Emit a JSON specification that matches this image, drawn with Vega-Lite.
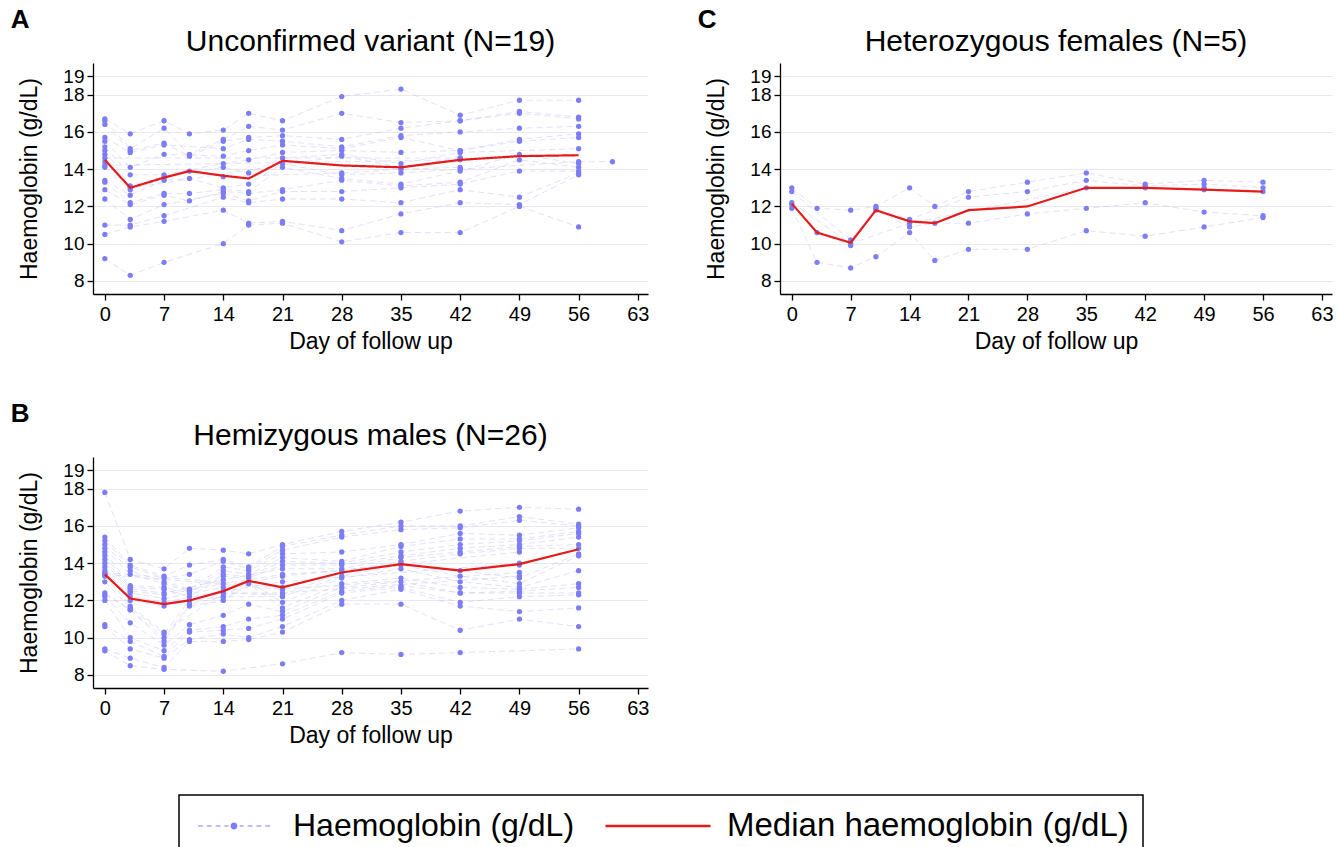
{
  "$schema": "https://vega.github.io/schema/vega-lite/v6.json",
  "autosize": {"type": "pad"},
  "padding": {"left": 10, "top": 7, "right": 5, "bottom": 0},
  "background": "white",
  "config": {
    "font": "Liberation Sans",
    "view": {"stroke": null},
    "axis": {"domainColor": "#000", "domainWidth": 1.3, "tickColor": "#000", "tickWidth": 1.3, "tickSize": 6, "labelColor": "#000", "titleColor": "#000", "labelFontSize": 19, "titleFontSize": 23, "titleFontWeight": "normal", "gridColor": "#e8e8f0", "gridWidth": 1, "labelFont": "Liberation Sans", "titleFont": "Liberation Sans", "labelOverlap": false, "tickCount": 20, "format": "d"},
    "axisX": {"grid": false, "labelPadding": 4, "titlePadding": 6, "labelFontSize": 20},
    "axisY": {"grid": true, "labelPadding": 3, "titlePadding": 21},
    "legend": {"strokeWidth": 1.5},
    "title": {"fontSize": 30, "fontWeight": "normal", "color": "#000", "font": "Liberation Sans"}
  },
  "datasets": {
    "pts": [
      {"p":"A","d":0,"v":9.2,"i":1},{"p":"A","d":0,"v":10.5,"i":2},{"p":"A","d":0,"v":11.0,"i":3},{"p":"A","d":0,"v":12.4,"i":4},{"p":"A","d":0,"v":12.9,"i":5},{"p":"A","d":0,"v":13.3,"i":6},{"p":"A","d":0,"v":13.4,"i":7},{"p":"A","d":0,"v":14.1,"i":8},{"p":"A","d":0,"v":14.2,"i":9},{"p":"A","d":0,"v":14.4,"i":10},{"p":"A","d":0,"v":14.6,"i":11},{"p":"A","d":0,"v":14.8,"i":12},{"p":"A","d":0,"v":15.0,"i":13},{"p":"A","d":0,"v":15.2,"i":14},{"p":"A","d":0,"v":15.5,"i":15},{"p":"A","d":0,"v":15.7,"i":16},{"p":"A","d":0,"v":16.4,"i":17},{"p":"A","d":0,"v":16.6,"i":18},{"p":"A","d":0,"v":16.7,"i":19},
      {"p":"A","d":3,"v":8.3,"i":1},{"p":"A","d":3,"v":10.9,"i":2},{"p":"A","d":3,"v":11.0,"i":3},{"p":"A","d":3,"v":11.3,"i":4},{"p":"A","d":3,"v":12.1,"i":5},{"p":"A","d":3,"v":12.2,"i":6},{"p":"A","d":3,"v":12.6,"i":7},{"p":"A","d":3,"v":12.9,"i":8},{"p":"A","d":3,"v":13.0,"i":12},{"p":"A","d":3,"v":13.1,"i":13},{"p":"A","d":3,"v":13.7,"i":14},{"p":"A","d":3,"v":14.1,"i":15},{"p":"A","d":3,"v":14.9,"i":16},{"p":"A","d":3,"v":15.0,"i":17},{"p":"A","d":3,"v":15.1,"i":18},{"p":"A","d":3,"v":15.9,"i":19},
      {"p":"A","d":7,"v":9.0,"i":1},{"p":"A","d":7,"v":11.2,"i":2},{"p":"A","d":7,"v":11.5,"i":3},{"p":"A","d":7,"v":12.1,"i":4},{"p":"A","d":7,"v":12.6,"i":5},{"p":"A","d":7,"v":12.7,"i":6},{"p":"A","d":7,"v":13.4,"i":7},{"p":"A","d":7,"v":13.5,"i":8},{"p":"A","d":7,"v":13.6,"i":13},{"p":"A","d":7,"v":13.7,"i":14},{"p":"A","d":7,"v":14.8,"i":15},{"p":"A","d":7,"v":15.3,"i":16},{"p":"A","d":7,"v":15.4,"i":17},{"p":"A","d":7,"v":16.2,"i":18},{"p":"A","d":7,"v":16.6,"i":19},
      {"p":"A","d":10,"v":12.3,"i":5},{"p":"A","d":10,"v":12.7,"i":6},{"p":"A","d":10,"v":13.5,"i":7},{"p":"A","d":10,"v":13.9,"i":8},{"p":"A","d":10,"v":14.7,"i":17},{"p":"A","d":10,"v":14.8,"i":18},{"p":"A","d":10,"v":15.9,"i":19},
      {"p":"A","d":14,"v":10.0,"i":1},{"p":"A","d":14,"v":11.8,"i":2},{"p":"A","d":14,"v":12.5,"i":3},{"p":"A","d":14,"v":12.7,"i":4},{"p":"A","d":14,"v":12.8,"i":5},{"p":"A","d":14,"v":12.9,"i":6},{"p":"A","d":14,"v":13.0,"i":7},{"p":"A","d":14,"v":13.6,"i":8},{"p":"A","d":14,"v":14.1,"i":13},{"p":"A","d":14,"v":14.3,"i":14},{"p":"A","d":14,"v":14.7,"i":15},{"p":"A","d":14,"v":15.1,"i":16},{"p":"A","d":14,"v":15.5,"i":17},{"p":"A","d":14,"v":15.6,"i":18},{"p":"A","d":14,"v":16.1,"i":19},
      {"p":"A","d":17,"v":11.0,"i":1},{"p":"A","d":17,"v":11.1,"i":2},{"p":"A","d":17,"v":12.2,"i":3},{"p":"A","d":17,"v":12.3,"i":4},{"p":"A","d":17,"v":12.7,"i":5},{"p":"A","d":17,"v":12.8,"i":6},{"p":"A","d":17,"v":13.2,"i":7},{"p":"A","d":17,"v":13.8,"i":13},{"p":"A","d":17,"v":14.5,"i":14},{"p":"A","d":17,"v":15.0,"i":15},{"p":"A","d":17,"v":15.6,"i":16},{"p":"A","d":17,"v":15.7,"i":17},{"p":"A","d":17,"v":16.3,"i":18},{"p":"A","d":17,"v":17.0,"i":19},
      {"p":"A","d":21,"v":11.1,"i":1},{"p":"A","d":21,"v":11.2,"i":2},{"p":"A","d":21,"v":12.4,"i":3},{"p":"A","d":21,"v":12.8,"i":4},{"p":"A","d":21,"v":12.9,"i":5},{"p":"A","d":21,"v":14.1,"i":6},{"p":"A","d":21,"v":14.3,"i":7},{"p":"A","d":21,"v":14.6,"i":13},{"p":"A","d":21,"v":14.9,"i":14},{"p":"A","d":21,"v":15.3,"i":15},{"p":"A","d":21,"v":15.5,"i":16},{"p":"A","d":21,"v":15.8,"i":17},{"p":"A","d":21,"v":16.1,"i":18},{"p":"A","d":21,"v":16.6,"i":19},
      {"p":"A","d":28,"v":10.1,"i":1},{"p":"A","d":28,"v":10.7,"i":2},{"p":"A","d":28,"v":12.4,"i":3},{"p":"A","d":28,"v":12.8,"i":4},{"p":"A","d":28,"v":13.4,"i":5},{"p":"A","d":28,"v":13.5,"i":6},{"p":"A","d":28,"v":13.7,"i":7},{"p":"A","d":28,"v":13.8,"i":8},{"p":"A","d":28,"v":14.7,"i":12},{"p":"A","d":28,"v":14.8,"i":13},{"p":"A","d":28,"v":15.0,"i":14},{"p":"A","d":28,"v":15.1,"i":15},{"p":"A","d":28,"v":15.2,"i":16},{"p":"A","d":28,"v":15.6,"i":17},{"p":"A","d":28,"v":17.0,"i":18},{"p":"A","d":28,"v":17.9,"i":19},
      {"p":"A","d":35,"v":10.6,"i":1},{"p":"A","d":35,"v":11.6,"i":2},{"p":"A","d":35,"v":12.2,"i":3},{"p":"A","d":35,"v":13.0,"i":4},{"p":"A","d":35,"v":13.1,"i":5},{"p":"A","d":35,"v":13.2,"i":6},{"p":"A","d":35,"v":13.8,"i":7},{"p":"A","d":35,"v":14.0,"i":8},{"p":"A","d":35,"v":14.1,"i":12},{"p":"A","d":35,"v":14.3,"i":13},{"p":"A","d":35,"v":14.9,"i":14},{"p":"A","d":35,"v":15.7,"i":15},{"p":"A","d":35,"v":15.8,"i":16},{"p":"A","d":35,"v":16.2,"i":17},{"p":"A","d":35,"v":16.5,"i":18},{"p":"A","d":35,"v":18.3,"i":19},
      {"p":"A","d":42,"v":10.6,"i":1},{"p":"A","d":42,"v":12.2,"i":2},{"p":"A","d":42,"v":12.9,"i":3},{"p":"A","d":42,"v":13.2,"i":4},{"p":"A","d":42,"v":13.3,"i":5},{"p":"A","d":42,"v":13.9,"i":6},{"p":"A","d":42,"v":14.0,"i":7},{"p":"A","d":42,"v":14.1,"i":8},{"p":"A","d":42,"v":14.5,"i":9},{"p":"A","d":42,"v":14.6,"i":11},{"p":"A","d":42,"v":14.6,"i":12},{"p":"A","d":42,"v":14.9,"i":13},{"p":"A","d":42,"v":15.0,"i":14},{"p":"A","d":42,"v":15.0,"i":15},{"p":"A","d":42,"v":16.0,"i":16},{"p":"A","d":42,"v":16.6,"i":17},{"p":"A","d":42,"v":16.6,"i":18},{"p":"A","d":42,"v":16.9,"i":19},
      {"p":"A","d":49,"v":12.0,"i":1},{"p":"A","d":49,"v":12.1,"i":2},{"p":"A","d":49,"v":12.5,"i":3},{"p":"A","d":49,"v":13.9,"i":4},{"p":"A","d":49,"v":14.5,"i":5},{"p":"A","d":49,"v":14.8,"i":6},{"p":"A","d":49,"v":15.5,"i":14},{"p":"A","d":49,"v":15.6,"i":15},{"p":"A","d":49,"v":16.2,"i":16},{"p":"A","d":49,"v":17.0,"i":17},{"p":"A","d":49,"v":17.1,"i":18},{"p":"A","d":49,"v":17.7,"i":19},
      {"p":"A","d":56,"v":10.9,"i":1},{"p":"A","d":56,"v":13.7,"i":2},{"p":"A","d":56,"v":13.8,"i":3},{"p":"A","d":56,"v":13.9,"i":4},{"p":"A","d":56,"v":14.1,"i":5},{"p":"A","d":56,"v":14.3,"i":6},{"p":"A","d":56,"v":14.4,"i":7},{"p":"A","d":56,"v":15.1,"i":13},{"p":"A","d":56,"v":15.7,"i":14},{"p":"A","d":56,"v":15.9,"i":15},{"p":"A","d":56,"v":16.3,"i":16},{"p":"A","d":56,"v":16.7,"i":17},{"p":"A","d":56,"v":16.8,"i":18},{"p":"A","d":56,"v":17.7,"i":19},
      {"p":"A","d":60,"v":14.4,"i":7},
      {"p":"B","d":0,"v":9.3,"i":1},{"p":"B","d":0,"v":9.4,"i":2},{"p":"B","d":0,"v":10.6,"i":3},{"p":"B","d":0,"v":10.7,"i":4},{"p":"B","d":0,"v":12.0,"i":5},{"p":"B","d":0,"v":12.2,"i":6},{"p":"B","d":0,"v":12.3,"i":7},{"p":"B","d":0,"v":12.4,"i":8},{"p":"B","d":0,"v":13.0,"i":9},{"p":"B","d":0,"v":13.3,"i":10},{"p":"B","d":0,"v":13.4,"i":11},{"p":"B","d":0,"v":13.4,"i":12},{"p":"B","d":0,"v":13.5,"i":15},{"p":"B","d":0,"v":13.6,"i":16},{"p":"B","d":0,"v":13.8,"i":17},{"p":"B","d":0,"v":14.0,"i":18},{"p":"B","d":0,"v":14.2,"i":19},{"p":"B","d":0,"v":14.4,"i":20},{"p":"B","d":0,"v":14.6,"i":21},{"p":"B","d":0,"v":14.8,"i":22},{"p":"B","d":0,"v":15.0,"i":23},{"p":"B","d":0,"v":15.2,"i":24},{"p":"B","d":0,"v":15.4,"i":25},{"p":"B","d":0,"v":17.8,"i":26},
      {"p":"B","d":3,"v":8.5,"i":1},{"p":"B","d":3,"v":8.9,"i":2},{"p":"B","d":3,"v":9.4,"i":3},{"p":"B","d":3,"v":9.8,"i":4},{"p":"B","d":3,"v":10.0,"i":5},{"p":"B","d":3,"v":10.8,"i":6},{"p":"B","d":3,"v":11.5,"i":7},{"p":"B","d":3,"v":11.5,"i":8},{"p":"B","d":3,"v":11.6,"i":9},{"p":"B","d":3,"v":11.7,"i":10},{"p":"B","d":3,"v":12.0,"i":11},{"p":"B","d":3,"v":12.2,"i":16},{"p":"B","d":3,"v":12.4,"i":17},{"p":"B","d":3,"v":12.5,"i":18},{"p":"B","d":3,"v":12.6,"i":19},{"p":"B","d":3,"v":12.7,"i":20},{"p":"B","d":3,"v":12.8,"i":21},{"p":"B","d":3,"v":13.4,"i":22},{"p":"B","d":3,"v":13.6,"i":23},{"p":"B","d":3,"v":13.8,"i":24},{"p":"B","d":3,"v":13.9,"i":25},{"p":"B","d":3,"v":14.2,"i":26},
      {"p":"B","d":7,"v":8.3,"i":1},{"p":"B","d":7,"v":8.4,"i":2},{"p":"B","d":7,"v":8.9,"i":3},{"p":"B","d":7,"v":9.0,"i":4},{"p":"B","d":7,"v":9.3,"i":5},{"p":"B","d":7,"v":9.6,"i":6},{"p":"B","d":7,"v":9.8,"i":7},{"p":"B","d":7,"v":10.0,"i":8},{"p":"B","d":7,"v":10.2,"i":9},{"p":"B","d":7,"v":10.3,"i":10},{"p":"B","d":7,"v":11.7,"i":11},{"p":"B","d":7,"v":11.9,"i":16},{"p":"B","d":7,"v":12.1,"i":17},{"p":"B","d":7,"v":12.3,"i":18},{"p":"B","d":7,"v":12.4,"i":19},{"p":"B","d":7,"v":12.6,"i":20},{"p":"B","d":7,"v":12.7,"i":21},{"p":"B","d":7,"v":12.9,"i":22},{"p":"B","d":7,"v":13.0,"i":23},{"p":"B","d":7,"v":13.2,"i":24},{"p":"B","d":7,"v":13.3,"i":25},{"p":"B","d":7,"v":13.7,"i":26},
      {"p":"B","d":10,"v":9.8,"i":2},{"p":"B","d":10,"v":9.9,"i":3},{"p":"B","d":10,"v":10.3,"i":4},{"p":"B","d":10,"v":10.4,"i":5},{"p":"B","d":10,"v":10.7,"i":6},{"p":"B","d":10,"v":11.7,"i":7},{"p":"B","d":10,"v":11.8,"i":8},{"p":"B","d":10,"v":12.0,"i":9},{"p":"B","d":10,"v":12.2,"i":20},{"p":"B","d":10,"v":12.4,"i":21},{"p":"B","d":10,"v":12.5,"i":22},{"p":"B","d":10,"v":12.6,"i":23},{"p":"B","d":10,"v":13.4,"i":24},{"p":"B","d":10,"v":13.9,"i":25},{"p":"B","d":10,"v":14.8,"i":26},
      {"p":"B","d":14,"v":8.2,"i":1},{"p":"B","d":14,"v":9.8,"i":2},{"p":"B","d":14,"v":10.2,"i":3},{"p":"B","d":14,"v":10.4,"i":4},{"p":"B","d":14,"v":10.6,"i":5},{"p":"B","d":14,"v":11.2,"i":6},{"p":"B","d":14,"v":12.0,"i":7},{"p":"B","d":14,"v":12.2,"i":8},{"p":"B","d":14,"v":12.2,"i":9},{"p":"B","d":14,"v":12.4,"i":10},{"p":"B","d":14,"v":12.4,"i":11},{"p":"B","d":14,"v":12.5,"i":16},{"p":"B","d":14,"v":12.7,"i":17},{"p":"B","d":14,"v":12.9,"i":18},{"p":"B","d":14,"v":13.1,"i":19},{"p":"B","d":14,"v":13.3,"i":20},{"p":"B","d":14,"v":13.4,"i":21},{"p":"B","d":14,"v":13.6,"i":22},{"p":"B","d":14,"v":13.8,"i":23},{"p":"B","d":14,"v":14.1,"i":24},{"p":"B","d":14,"v":14.2,"i":25},{"p":"B","d":14,"v":14.7,"i":26},
      {"p":"B","d":17,"v":9.9,"i":2},{"p":"B","d":17,"v":10.0,"i":3},{"p":"B","d":17,"v":10.5,"i":4},{"p":"B","d":17,"v":11.0,"i":5},{"p":"B","d":17,"v":11.8,"i":6},{"p":"B","d":17,"v":12.9,"i":7},{"p":"B","d":17,"v":13.0,"i":8},{"p":"B","d":17,"v":13.2,"i":20},{"p":"B","d":17,"v":13.3,"i":21},{"p":"B","d":17,"v":13.4,"i":22},{"p":"B","d":17,"v":13.6,"i":23},{"p":"B","d":17,"v":13.7,"i":24},{"p":"B","d":17,"v":13.8,"i":25},{"p":"B","d":17,"v":14.5,"i":26},
      {"p":"B","d":21,"v":8.6,"i":1},{"p":"B","d":21,"v":10.3,"i":2},{"p":"B","d":21,"v":10.6,"i":3},{"p":"B","d":21,"v":11.0,"i":4},{"p":"B","d":21,"v":11.2,"i":5},{"p":"B","d":21,"v":11.4,"i":6},{"p":"B","d":21,"v":11.6,"i":7},{"p":"B","d":21,"v":11.9,"i":8},{"p":"B","d":21,"v":12.2,"i":9},{"p":"B","d":21,"v":12.3,"i":10},{"p":"B","d":21,"v":12.4,"i":11},{"p":"B","d":21,"v":12.6,"i":12},{"p":"B","d":21,"v":12.7,"i":15},{"p":"B","d":21,"v":13.0,"i":16},{"p":"B","d":21,"v":13.3,"i":17},{"p":"B","d":21,"v":13.4,"i":18},{"p":"B","d":21,"v":13.7,"i":19},{"p":"B","d":21,"v":13.9,"i":20},{"p":"B","d":21,"v":14.1,"i":21},{"p":"B","d":21,"v":14.3,"i":22},{"p":"B","d":21,"v":14.5,"i":23},{"p":"B","d":21,"v":14.7,"i":24},{"p":"B","d":21,"v":14.9,"i":25},{"p":"B","d":21,"v":15.0,"i":26},
      {"p":"B","d":28,"v":9.2,"i":1},{"p":"B","d":28,"v":11.8,"i":2},{"p":"B","d":28,"v":12.0,"i":3},{"p":"B","d":28,"v":12.4,"i":4},{"p":"B","d":28,"v":12.5,"i":5},{"p":"B","d":28,"v":12.7,"i":6},{"p":"B","d":28,"v":12.9,"i":7},{"p":"B","d":28,"v":13.2,"i":8},{"p":"B","d":28,"v":13.3,"i":9},{"p":"B","d":28,"v":13.5,"i":10},{"p":"B","d":28,"v":13.6,"i":18},{"p":"B","d":28,"v":13.7,"i":19},{"p":"B","d":28,"v":13.9,"i":20},{"p":"B","d":28,"v":14.0,"i":21},{"p":"B","d":28,"v":14.1,"i":22},{"p":"B","d":28,"v":14.6,"i":23},{"p":"B","d":28,"v":15.4,"i":24},{"p":"B","d":28,"v":15.5,"i":25},{"p":"B","d":28,"v":15.7,"i":26},
      {"p":"B","d":35,"v":9.1,"i":1},{"p":"B","d":35,"v":11.8,"i":2},{"p":"B","d":35,"v":12.6,"i":3},{"p":"B","d":35,"v":12.7,"i":4},{"p":"B","d":35,"v":12.8,"i":5},{"p":"B","d":35,"v":13.0,"i":6},{"p":"B","d":35,"v":13.2,"i":7},{"p":"B","d":35,"v":13.7,"i":8},{"p":"B","d":35,"v":13.9,"i":9},{"p":"B","d":35,"v":14.0,"i":10},{"p":"B","d":35,"v":14.1,"i":18},{"p":"B","d":35,"v":14.3,"i":19},{"p":"B","d":35,"v":14.4,"i":20},{"p":"B","d":35,"v":14.6,"i":21},{"p":"B","d":35,"v":14.9,"i":22},{"p":"B","d":35,"v":15.0,"i":23},{"p":"B","d":35,"v":15.8,"i":24},{"p":"B","d":35,"v":16.0,"i":25},{"p":"B","d":35,"v":16.2,"i":26},
      {"p":"B","d":42,"v":9.2,"i":1},{"p":"B","d":42,"v":10.4,"i":2},{"p":"B","d":42,"v":11.7,"i":3},{"p":"B","d":42,"v":11.9,"i":4},{"p":"B","d":42,"v":12.4,"i":5},{"p":"B","d":42,"v":12.4,"i":6},{"p":"B","d":42,"v":12.7,"i":7},{"p":"B","d":42,"v":13.0,"i":8},{"p":"B","d":42,"v":13.3,"i":9},{"p":"B","d":42,"v":13.6,"i":10},{"p":"B","d":42,"v":14.5,"i":18},{"p":"B","d":42,"v":14.6,"i":19},{"p":"B","d":42,"v":14.8,"i":20},{"p":"B","d":42,"v":15.0,"i":21},{"p":"B","d":42,"v":15.3,"i":22},{"p":"B","d":42,"v":15.6,"i":23},{"p":"B","d":42,"v":15.9,"i":24},{"p":"B","d":42,"v":16.0,"i":25},{"p":"B","d":42,"v":16.8,"i":26},
      {"p":"B","d":49,"v":11.0,"i":2},{"p":"B","d":49,"v":11.4,"i":3},{"p":"B","d":49,"v":12.2,"i":4},{"p":"B","d":49,"v":12.4,"i":5},{"p":"B","d":49,"v":12.5,"i":6},{"p":"B","d":49,"v":12.6,"i":7},{"p":"B","d":49,"v":12.7,"i":8},{"p":"B","d":49,"v":12.9,"i":9},{"p":"B","d":49,"v":13.2,"i":10},{"p":"B","d":49,"v":13.3,"i":11},{"p":"B","d":49,"v":13.5,"i":12},{"p":"B","d":49,"v":13.9,"i":13},{"p":"B","d":49,"v":14.0,"i":16},{"p":"B","d":49,"v":14.6,"i":17},{"p":"B","d":49,"v":14.8,"i":18},{"p":"B","d":49,"v":14.9,"i":19},{"p":"B","d":49,"v":15.0,"i":20},{"p":"B","d":49,"v":15.2,"i":21},{"p":"B","d":49,"v":15.3,"i":22},{"p":"B","d":49,"v":15.5,"i":23},{"p":"B","d":49,"v":16.3,"i":24},{"p":"B","d":49,"v":16.5,"i":25},{"p":"B","d":49,"v":17.0,"i":26},
      {"p":"B","d":56,"v":9.4,"i":1},{"p":"B","d":56,"v":10.6,"i":2},{"p":"B","d":56,"v":11.6,"i":3},{"p":"B","d":56,"v":12.3,"i":4},{"p":"B","d":56,"v":12.4,"i":5},{"p":"B","d":56,"v":12.7,"i":6},{"p":"B","d":56,"v":12.9,"i":7},{"p":"B","d":56,"v":13.6,"i":8},{"p":"B","d":56,"v":14.4,"i":9},{"p":"B","d":56,"v":14.5,"i":10},{"p":"B","d":56,"v":14.8,"i":18},{"p":"B","d":56,"v":15.0,"i":19},{"p":"B","d":56,"v":15.4,"i":20},{"p":"B","d":56,"v":15.6,"i":21},{"p":"B","d":56,"v":15.7,"i":22},{"p":"B","d":56,"v":15.9,"i":23},{"p":"B","d":56,"v":16.0,"i":24},{"p":"B","d":56,"v":16.1,"i":25},{"p":"B","d":56,"v":16.9,"i":26},
      {"p":"C","d":0,"v":11.9,"i":1},{"p":"C","d":0,"v":12.1,"i":2},{"p":"C","d":0,"v":12.2,"i":3},{"p":"C","d":0,"v":12.8,"i":5},{"p":"C","d":0,"v":13.0,"i":6},
      {"p":"C","d":3,"v":9.0,"i":1},{"p":"C","d":3,"v":10.6,"i":2},{"p":"C","d":3,"v":11.9,"i":6},
      {"p":"C","d":7,"v":8.7,"i":1},{"p":"C","d":7,"v":9.9,"i":2},{"p":"C","d":7,"v":10.0,"i":3},{"p":"C","d":7,"v":10.2,"i":5},{"p":"C","d":7,"v":11.8,"i":6},
      {"p":"C","d":10,"v":9.3,"i":1},{"p":"C","d":10,"v":11.8,"i":2},{"p":"C","d":10,"v":11.9,"i":5},{"p":"C","d":10,"v":12.0,"i":6},
      {"p":"C","d":14,"v":10.6,"i":1},{"p":"C","d":14,"v":10.9,"i":2},{"p":"C","d":14,"v":11.1,"i":3},{"p":"C","d":14,"v":11.3,"i":5},{"p":"C","d":14,"v":13.0,"i":6},
      {"p":"C","d":17,"v":9.1,"i":1},{"p":"C","d":17,"v":11.1,"i":2},{"p":"C","d":17,"v":12.0,"i":6},
      {"p":"C","d":21,"v":9.7,"i":1},{"p":"C","d":21,"v":11.1,"i":2},{"p":"C","d":21,"v":12.5,"i":5},{"p":"C","d":21,"v":12.8,"i":6},
      {"p":"C","d":28,"v":9.7,"i":1},{"p":"C","d":28,"v":11.6,"i":2},{"p":"C","d":28,"v":12.8,"i":5},{"p":"C","d":28,"v":13.3,"i":6},
      {"p":"C","d":35,"v":10.7,"i":1},{"p":"C","d":35,"v":11.9,"i":2},{"p":"C","d":35,"v":13.0,"i":3},{"p":"C","d":35,"v":13.4,"i":5},{"p":"C","d":35,"v":13.8,"i":6},
      {"p":"C","d":42,"v":10.4,"i":1},{"p":"C","d":42,"v":12.2,"i":2},{"p":"C","d":42,"v":13.0,"i":3},{"p":"C","d":42,"v":13.1,"i":5},{"p":"C","d":42,"v":13.2,"i":6},
      {"p":"C","d":49,"v":10.9,"i":1},{"p":"C","d":49,"v":11.7,"i":2},{"p":"C","d":49,"v":12.9,"i":3},{"p":"C","d":49,"v":13.0,"i":4},{"p":"C","d":49,"v":13.2,"i":5},{"p":"C","d":49,"v":13.4,"i":6},
      {"p":"C","d":56,"v":11.4,"i":1},{"p":"C","d":56,"v":11.5,"i":2},{"p":"C","d":56,"v":12.8,"i":3},{"p":"C","d":56,"v":13.0,"i":5},{"p":"C","d":56,"v":13.3,"i":6}
    ],
    "med": [
      {"p":"A","d":0,"v":14.5},{"p":"A","d":3,"v":13.0},{"p":"A","d":7,"v":13.55},{"p":"A","d":10,"v":13.9},{"p":"A","d":14,"v":13.65},{"p":"A","d":17,"v":13.5},{"p":"A","d":21,"v":14.45},{"p":"A","d":28,"v":14.2},{"p":"A","d":35,"v":14.1},{"p":"A","d":42,"v":14.5},{"p":"A","d":49,"v":14.7},{"p":"A","d":56,"v":14.75},
      {"p":"B","d":0,"v":13.4},{"p":"B","d":3,"v":12.1},{"p":"B","d":7,"v":11.8},{"p":"B","d":10,"v":12.0},{"p":"B","d":14,"v":12.5},{"p":"B","d":17,"v":13.05},{"p":"B","d":21,"v":12.7},{"p":"B","d":28,"v":13.5},{"p":"B","d":35,"v":13.95},{"p":"B","d":42,"v":13.6},{"p":"B","d":49,"v":13.95},{"p":"B","d":56,"v":14.75},
      {"p":"C","d":0,"v":12.15},{"p":"C","d":3,"v":10.6},{"p":"C","d":7,"v":10.05},{"p":"C","d":10,"v":11.8},{"p":"C","d":14,"v":11.2},{"p":"C","d":17,"v":11.1},{"p":"C","d":21,"v":11.8},{"p":"C","d":28,"v":12.0},{"p":"C","d":35,"v":13.0},{"p":"C","d":42,"v":13.0},{"p":"C","d":49,"v":12.9},{"p":"C","d":56,"v":12.8}
    ]
  },
  "vconcat": [
    {
      "hconcat": [
        {
          "title": {"text": "A", "anchor": "start", "fontSize": 26, "fontWeight": "bold", "dx": -8, "offset": -6},
          "vconcat": [
            {
              "width": 555, "height": 231,
              "title": {"text": "Unconfirmed variant (N=19)", "frame": "group", "anchor": "middle", "offset": 6},
              "layer": [
                {"data": {"name": "pts"}, "transform": [{"filter": "datum.p === 'A'"}],
                 "mark": {"type": "line", "strokeDash": [6, 4], "strokeWidth": 1, "color": "#b8b8f0", "opacity": 0.42},
                 "encoding": {
                   "x": {"field": "d", "type": "quantitative", "scale": {"domain": [-1.4, 64.2], "nice": false, "zero": false}, "axis": {"values": [0,7,14,21,28,35,42,49,56,63], "title": "Day of follow up", "tickCount": 20, "format": "d"}},
                   "y": {"field": "v", "type": "quantitative", "scale": {"domain": [7.3, 19.7], "nice": false, "zero": false}, "axis": {"values": [8,10,12,14,16,18,19], "title": "Haemoglobin (g/dL)", "tickCount": 20, "format": "d"}},
                   "detail": {"field": "i"}, "order": {"field": "d"}}},
                {"data": {"name": "pts"}, "transform": [{"filter": "datum.p === 'A'"}],
                 "mark": {"type": "circle", "size": 28, "opacity": 1},
                 "encoding": {
                   "x": {"field": "d", "type": "quantitative"},
                   "y": {"field": "v", "type": "quantitative"},
                   "color": {"datum": "Haemoglobin (g/dL)", "type": "nominal",
                     "scale": {"domain": ["Haemoglobin (g/dL)"], "range": ["#7d7df5"]},
                     "legend": {
                       "orient": "none", "legendX": 86, "legendY": 732, "direction": "horizontal",
                       "title": "Median haemoglobin (g/dL)", "titleOrient": "right", "titlePadding": 153,
                       "titleFontSize": 33, "titleFontWeight": "normal", "titleColor": "#000", "titleFont": "Liberation Sans", "titleLimit": 1000,
                       "titleAnchor": "middle", "titleBaseline": "middle",
                       "labelFontSize": 32, "labelColor": "#000", "labelFont": "Liberation Sans", "labelLimit": 1000,
                       "strokeColor": "#000", "padding": 14, "clipHeight": 34,
                       "symbolSize": 6400, "labelOffset": 18, "symbolOpacity": 1,
                       "symbolType": "M-0.9,-0.01H-0.78V0.01H-0.9Z M-0.68,-0.01H-0.56V0.01H-0.68Z M-0.46,-0.01H-0.34V0.01H-0.46Z M-0.24,-0.01H-0.14V0.01H-0.24Z M0.14,-0.01H0.24V0.01H0.14Z M0.34,-0.01H0.46V0.01H0.34Z M0.56,-0.01H0.68V0.01H0.56Z M0.78,-0.01H0.9V0.01H0.78Z M0.085,0A0.085,0.085,0,1,1,-0.085,0A0.085,0.085,0,1,1,0.085,0Z"
                     }}}},
                {"data": {"name": "med"}, "transform": [{"filter": "datum.p === 'A'"}],
                 "mark": {"type": "line", "strokeWidth": 2.2, "color": "#e41b1b"},
                 "encoding": {
                   "x": {"field": "d", "type": "quantitative"},
                   "y": {"field": "v", "type": "quantitative"},
                   "strokeDash": {"datum": "Median haemoglobin (g/dL)", "type": "nominal",
                     "scale": {"domain": ["Median haemoglobin (g/dL)"], "range": [[1, 0]]},
                     "legend": {
                       "orient": "none", "legendX": 511, "legendY": 746, "direction": "horizontal", "title": null,
                       "labelExpr": "''", "labelFontSize": 1, "labelOffset": 0,
                       "padding": 0, "clipHeight": 34, "symbolType": "stroke", "symbolSize": 11025,
                       "symbolStrokeWidth": 2.5, "symbolStrokeColor": "#e41b1b", "symbolOpacity": 1
                     }}}}
              ]
            }
          ]
        },
        {
          "title": {"text": "C", "anchor": "start", "fontSize": 26, "fontWeight": "bold", "dx": -8, "offset": -6},
          "vconcat": [
            {
              "width": 552, "height": 231,
              "title": {"text": "Heterozygous females (N=5)", "frame": "group", "anchor": "middle", "offset": 6},
              "layer": [
                {"data": {"name": "pts"}, "transform": [{"filter": "datum.p === 'C'"}],
                 "mark": {"type": "line", "strokeDash": [6, 4], "strokeWidth": 1, "color": "#b8b8f0", "opacity": 0.42},
                 "encoding": {
                   "x": {"field": "d", "type": "quantitative", "scale": {"domain": [-1.4, 64.2], "nice": false, "zero": false}, "axis": {"values": [0,7,14,21,28,35,42,49,56,63], "title": "Day of follow up", "tickCount": 20, "format": "d"}},
                   "y": {"field": "v", "type": "quantitative", "scale": {"domain": [7.3, 19.7], "nice": false, "zero": false}, "axis": {"values": [8,10,12,14,16,18,19], "title": "Haemoglobin (g/dL)", "tickCount": 20, "format": "d"}},
                   "detail": {"field": "i"}, "order": {"field": "d"}}},
                {"data": {"name": "pts"}, "transform": [{"filter": "datum.p === 'C'"}],
                 "mark": {"type": "circle", "size": 28, "opacity": 1, "color": "#7d7df5"},
                 "encoding": {"x": {"field": "d", "type": "quantitative"}, "y": {"field": "v", "type": "quantitative"}}},
                {"data": {"name": "med"}, "transform": [{"filter": "datum.p === 'C'"}],
                 "mark": {"type": "line", "strokeWidth": 2.2, "color": "#e41b1b"},
                 "encoding": {"x": {"field": "d", "type": "quantitative"}, "y": {"field": "v", "type": "quantitative"}}}
              ]
            }
          ]
        }
      ],
      "spacing": 48
    },
    {
      "title": {"text": "B", "anchor": "start", "fontSize": 26, "fontWeight": "bold", "dx": -8, "offset": -6},
      "vconcat": [
        {
          "width": 555, "height": 231,
          "title": {"text": "Hemizygous males (N=26)", "frame": "group", "anchor": "middle", "offset": 6},
          "layer": [
            {"data": {"name": "pts"}, "transform": [{"filter": "datum.p === 'B'"}],
             "mark": {"type": "line", "strokeDash": [6, 4], "strokeWidth": 1, "color": "#b8b8f0", "opacity": 0.42},
             "encoding": {
               "x": {"field": "d", "type": "quantitative", "scale": {"domain": [-1.4, 64.2], "nice": false, "zero": false}, "axis": {"values": [0,7,14,21,28,35,42,49,56,63], "title": "Day of follow up", "tickCount": 20, "format": "d"}},
               "y": {"field": "v", "type": "quantitative", "scale": {"domain": [7.3, 19.7], "nice": false, "zero": false}, "axis": {"values": [8,10,12,14,16,18,19], "title": "Haemoglobin (g/dL)", "tickCount": 20, "format": "d"}},
               "detail": {"field": "i"}, "order": {"field": "d"}}},
            {"data": {"name": "pts"}, "transform": [{"filter": "datum.p === 'B'"}],
             "mark": {"type": "circle", "size": 28, "opacity": 1, "color": "#7d7df5"},
             "encoding": {"x": {"field": "d", "type": "quantitative"}, "y": {"field": "v", "type": "quantitative"}}},
            {"data": {"name": "med"}, "transform": [{"filter": "datum.p === 'B'"}],
             "mark": {"type": "line", "strokeWidth": 2.2, "color": "#e41b1b"},
             "encoding": {"x": {"field": "d", "type": "quantitative"}, "y": {"field": "v", "type": "quantitative"}}}
          ]
        }
      ]
    }
  ],
  "spacing": 48
}
